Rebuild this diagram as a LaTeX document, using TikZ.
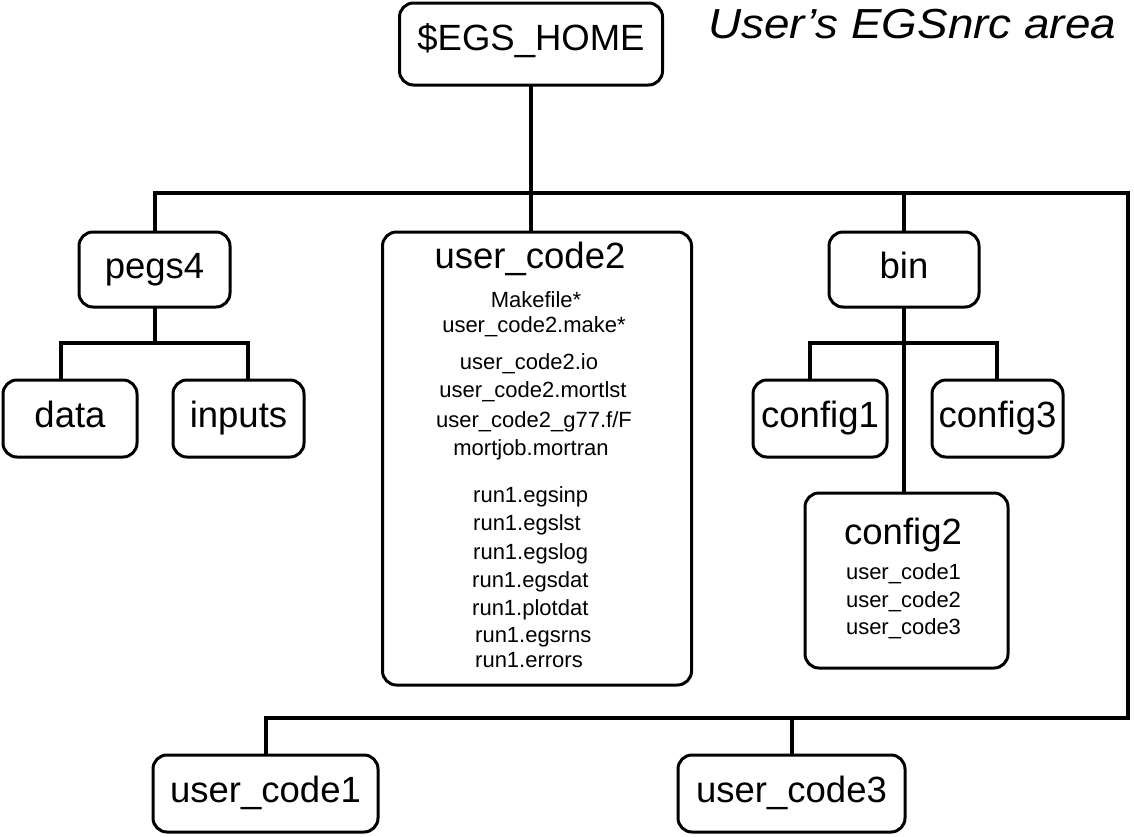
\documentclass[tikz,border=0pt]{standalone}
\usepackage{fontspec}
\setmainfont{Liberation Sans}
\begin{document}
\begin{tikzpicture}[x=1pt,y=-1pt,
  dirbox/.style={draw, line width=3pt, rounded corners=14pt, inner sep=0pt,
    text height=27pt, text depth=9pt,
    font=\fontsize{36.5}{40}\selectfont},
  small/.style={inner sep=0pt, font=\fontsize{22}{24}\selectfont},
  conn/.style={line width=4pt, line join=miter, line cap=rect}]
\useasboundingbox (0,0) rectangle (1134,836);
% boxes
\node[dirbox, text depth=15pt, minimum width=263pt, minimum height=82pt] (home) at (531,44) {\$EGS\_HOME};
\node[anchor=base west, inner sep=0pt, font=\fontsize{42}{46}\selectfont\itshape] (title) at (708,38) {\scalebox{1.09}[1]{User’s EGSnrc area}};
\node[dirbox, minimum width=151pt, minimum height=75pt] (pegs) at (154.5,269.5) {pegs4};
\node[dirbox, minimum width=134pt, minimum height=77pt] (data) at (70,418.5) {data};
\node[dirbox, minimum width=131pt, minimum height=77pt] (inputs) at (238.5,418.5) {inputs};
\node[dirbox, minimum width=309pt, minimum height=453pt] (uc2) at (537,458.5) {};
\node[dirbox, minimum width=150pt, minimum height=75pt] (bin) at (904,269.5) {bin};
\node[dirbox, minimum width=134pt, minimum height=77pt] (cfg1) at (820,418.5) {config1};
\node[dirbox, minimum width=131pt, minimum height=77pt] (cfg3) at (997.5,418.5) {config3};
\node[dirbox, minimum width=203pt, minimum height=175pt] (cfg2) at (906.5,580.5) {};
\node[dirbox, minimum width=225pt, minimum height=77pt] (uc1) at (265.5,793.5) {user\_code1};
\node[dirbox, minimum width=227pt, minimum height=77pt] (uc3) at (791.5,793.5) {user\_code3};
% contents of user_code2
\node[anchor=base, inner sep=0pt, font=\fontsize{36.5}{40}\selectfont] (uc2t) at (530,268) {user\_code2};
\node[small, anchor=base] (f1) at (536,307) {Makefile*};
\node[small, anchor=base] (f2) at (534,332) {user\_code2.make*};
\node[small, anchor=base] (f3) at (529,369) {user\_code2.io};
\node[small, anchor=base] (f4) at (533,397) {user\_code2.mortlst};
\node[small, anchor=base] (f5) at (534,427) {user\_code2\_g77.f/F};
\node[small, anchor=base] (f6) at (531,455) {mortjob.mortran};
\node[small, anchor=base west] (r1) at (473,502) {run1.egsinp};
\node[small, anchor=base west] (r2) at (473,530) {run1.egslst};
\node[small, anchor=base west] (r3) at (473,559) {run1.egslog};
\node[small, anchor=base west] (r4) at (472,587) {run1.egsdat};
\node[small, anchor=base west] (r5) at (472,615) {run1.plotdat};
\node[small, anchor=base west] (r6) at (475,642) {run1.egsrns};
\node[small, anchor=base west] (r7) at (475,667) {run1.errors};
% contents of config2
\node[anchor=base, inner sep=0pt, font=\fontsize{36.5}{40}\selectfont] (cfg2t) at (903,544) {config2};
\node[small, anchor=base] (c1) at (903.5,579) {user\_code1};
\node[small, anchor=base] (c2) at (903.5,607) {user\_code2};
\node[small, anchor=base] (c3) at (903.5,634) {user\_code3};
% connectors
\coordinate (busR) at (1128,193);
\coordinate (busRB) at (1128,718);
\draw[conn] (pegs.north) |- (busR) -- (busRB) -| (uc1.north);
\draw[conn] (home.south) -- (home.south |- uc2.north);
\draw[conn] (bin.north) -- (bin.north |- busR);
\draw[conn] (uc3.north) -- (uc3.north |- busRB);
% pegs4 branch
\coordinate (pd) at (61,343);
\coordinate (pi) at (248,343);
\draw[conn] (pegs.south) -- (pegs.south |- pd);
\draw[conn] (pd |- data.north) -- (pd) -- (pi) -- (pi |- inputs.north);
% bin branch
\coordinate (bd) at (810,343);
\coordinate (bi) at (997,343);
\draw[conn] (bin.south) -- (bin.south |- cfg2.north);
\draw[conn] (bd |- cfg1.north) -- (bd) -- (bi) -- (bi |- cfg3.north);
\end{tikzpicture}
\end{document}
